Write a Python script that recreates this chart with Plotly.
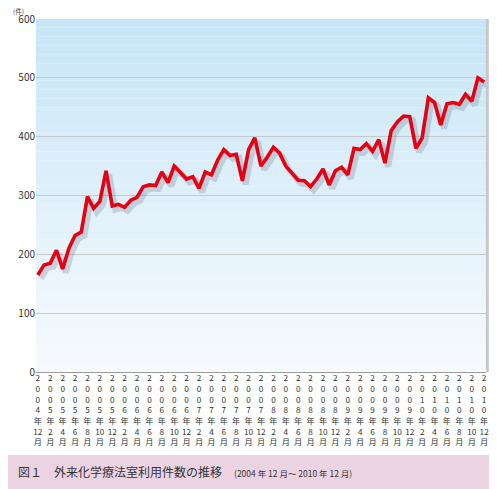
import plotly.graph_objects as go

# 2004年12月 ～ 2010年12月 の月別件数
years = [2004] + [y for y in range(2005, 2010 + 1) for _ in range(12)]
months = [12] + list(range(1, 13)) * 6
counts = [165, 182, 185, 207, 175, 210, 232, 238, 298, 278, 290, 342, 282,
          285, 280, 292, 297, 315, 318, 317, 340, 322, 350, 340, 328, 332,
          312, 340, 335, 360, 378, 368, 370, 325, 378, 398, 350, 365, 382,
          372, 350, 338, 326, 325, 315, 328, 345, 318, 342, 348, 335, 380,
          378, 388, 375, 395, 355, 410, 425, 435, 434, 380, 398, 466, 458,
          420, 456, 458, 455, 472, 460, 500, 468]
counts = counts[:len(years)]
counts[-1] = 493

x = list(range(len(years)))
tick_idx = x[::2]
tick_text = ["<br>".join(list(str(years[i])) + ["年", str(months[i]), "月"]) for i in tick_idx]

fig = go.Figure()

# 影
fig.add_trace(go.Scatter(x=[v + 0.5 for v in x], y=[c - 6 for c in counts], mode="lines",
                         line=dict(color="rgba(80,90,110,0.22)", width=6),
                         hoverinfo="skip", showlegend=False))
fig.add_trace(go.Scatter(x=x, y=counts, mode="lines",
                         line=dict(color="#e60012", width=3.6), showlegend=False))

# 背景グラデーション
shapes = []
n = 40
for i in range(n):
    t = i / n
    r = int(200 + (248 - 200) * t)
    g = int(230 + (251 - 230) * t)
    b = int(247 + (254 - 247) * t)
    shapes.append(dict(type="rect", xref="x domain", yref="y domain",
                       x0=0, x1=1, y0=1 - (i + 1) / n, y1=1 - i / n,
                       fillcolor=f"rgb({r},{g},{b})", line=dict(width=0), layer="below"))
shapes.append(dict(type="line", xref="paper", yref="paper", x0=1.003, x1=1.003, y0=0, y1=1,
                   line=dict(color="#c8c8c8", width=3)))
shapes.append(dict(type="rect", xref="paper", yref="paper", x0=-0.08, x1=1.03,
                   y0=-0.335, y1=-0.235, fillcolor="#ecd3e2", line=dict(width=0)))

fig.update_layout(
    width=489, height=481,
    margin=dict(l=28, r=11, t=11, b=117),
    paper_bgcolor="white", plot_bgcolor="white",
    font=dict(family="Noto Sans CJK JP", color="#333333"),
    shapes=shapes,
    xaxis=dict(range=[-0.3, len(x) - 0.7], tickmode="array", tickvals=tick_idx,
               ticktext=tick_text, tickangle=0, tickfont=dict(size=8.2),
               showgrid=False, zeroline=False, showline=False, ticks="",
               automargin=False),
    yaxis=dict(range=[0, 600], dtick=100, tickfont=dict(size=10),
               gridcolor="#c9c9c9", gridwidth=1, zeroline=True,
               zerolinecolor="#9a9a9a", zerolinewidth=1, ticks="",
               automargin=False),
    annotations=[
        dict(text="(件)", xref="paper", yref="paper", x=-0.04, y=1.022,
             showarrow=False, font=dict(size=6.5), xanchor="center", yanchor="middle"),
        dict(text="図１　外来化学療法室利用件数の推移　<span style='font-size:8.5px'>(2004 年 12 月～ 2010 年 12 月)</span>",
             xref="paper", yref="paper", x=-0.045, y=-0.283, xanchor="left", yanchor="middle",
             showarrow=False, font=dict(size=12, color="#333333")),
    ],
)

fig.write_html("out.html")
